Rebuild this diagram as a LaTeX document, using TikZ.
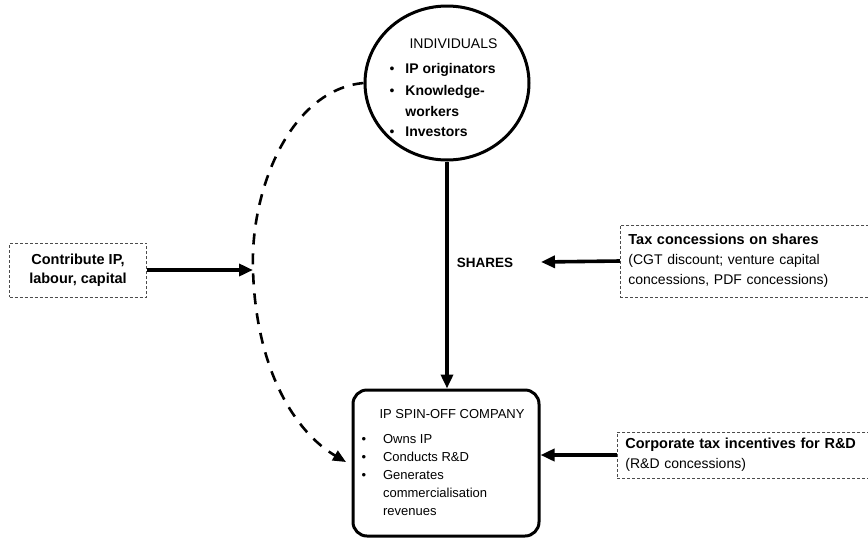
\documentclass[tikz,border=0pt]{standalone}
\usepackage{fontspec}
\setmainfont{Liberation Sans}
\usepackage{xcolor}
\usetikzlibrary{arrows.meta, positioning, shapes.geometric}

\begin{document}
\begin{tikzpicture}[
  x=1pt, y=-1pt,
  party/.style={draw, ellipse, line width=3pt, minimum width=164pt, minimum height=154pt, inner sep=0pt},
  firm/.style={draw, rounded corners=14pt, line width=3pt, minimum width=186pt, minimum height=146pt},
  note/.style={draw=black!70, line width=0.8pt, dash pattern=on 3pt off 2pt, align=left, inner xsep=8pt},
  arrow/.style={-{Triangle[length=14pt, width=12pt]}, line width=3.6pt},
  flow/.style={-{Triangle[length=13pt, width=11pt]}, line width=2.6pt, dash pattern=on 11pt off 9pt}
]
\useasboundingbox (0,0) rectangle (868,539);

\node[party] (indiv) at (447,83) {};
\node[align=left, font=\fontsize{14}{20}\selectfont, anchor=north west] (indivtext) at (386,35)
  {\hspace*{20pt}INDIVIDUALS\\[10pt]
   \begin{tabular}{@{}l@{\hspace{11pt}}l@{}}
   \textbullet & \textbf{IP originators}\\[2pt]
   \textbullet & \textbf{Knowledge-}\\[1pt]
               & \textbf{workers}\\
   \textbullet & \textbf{Investors}
   \end{tabular}};

\node[firm] (company) at (446,463) {};
\node[align=left, font=\fontsize{13}{18}\selectfont, anchor=north west] (companytext) at (358,406)
  {\hspace*{18pt}IP SPIN-OFF COMPANY\\[11pt]
   \begin{tabular}{@{}l@{\hspace{17pt}}l@{}}
   \textbullet & Owns IP\\
   \textbullet & Conducts R\&D\\
   \textbullet & Generates\\
               & commercialisation\\
               & revenues
   \end{tabular}};

\node[note, align=center, minimum width=137pt, minimum height=54pt, font=\bfseries\fontsize{14.5}{19}\selectfont] (contrib) at (78,270)
  {Contribute IP,\\labour, capital};

\node[note, anchor=west, text width=240pt, minimum height=72pt, font=\fontsize{14}{20}\selectfont] (taxshares) at (620,261)
  {\textbf{\fontsize{14.5}{20}\selectfont Tax concessions on shares}\\(CGT discount; venture capital\\concessions, PDF concessions)};

\node[note, anchor=west, text width=240pt, minimum height=46pt, font=\fontsize{14}{20}\selectfont] (rdtax) at (617,455)
  {\textbf{\fontsize{14.5}{20}\selectfont Corporate tax incentives for R\&D}\\(R\&D concessions)};

\node[font=\bfseries\fontsize{13.5}{16}\selectfont] (shares) at (485,263) {SHARES};

\coordinate (mid) at (253,270);
\coordinate (sharestip) at (541,262);

\draw[arrow] (indiv.south) -- (indiv.south |- company.north);
\draw[arrow] (contrib.east) -- (mid);
\draw[arrow] (taxshares.west) -- (sharestip);
\draw[arrow] (rdtax.west) -- (rdtax.west -| company.east);
\draw[flow] (indiv.west) .. controls (290,90) and (250,190) .. (mid)
  .. controls (256,370) and (295,432) .. (346,462);
\end{tikzpicture}
\end{document}
